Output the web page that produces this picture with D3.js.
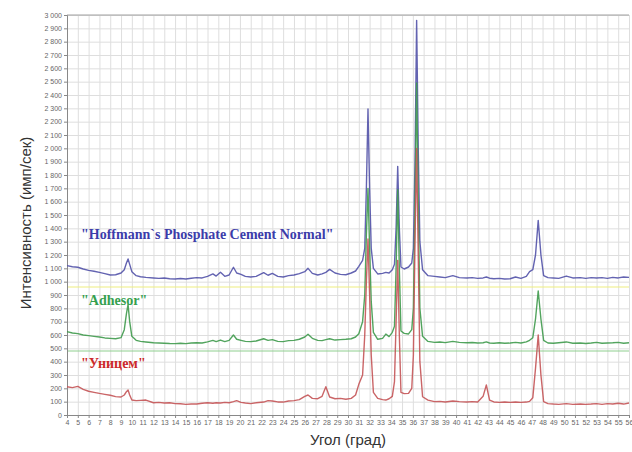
<!DOCTYPE html>
<html>
<head>
<meta charset="utf-8">
<script src="https://cdn.jsdelivr.net/npm/d3@7"></script>
<style>
  body { margin: 0; background: #fff; }
  svg { display: block; font-family: "Liberation Sans", Arial, sans-serif; }
</style>
</head>
<body>
<div id="chart"></div>
<script>
// 2θ angles of the scan (shared by all three samples)
const angles = [
  4, 4.5, 5, 5.5, 6, 6.5, 7, 7.5, 8, 8.5,
  9, 9.3, 9.5, 9.65, 9.8, 10, 10.4, 10.8, 11.3, 12,
  12.5, 13, 13.5, 14, 14.5, 15, 15.5, 16, 16.5, 17,
  17.5, 17.8, 18.2, 18.6, 19, 19.4, 19.7, 20.1, 20.5, 21,
  21.5, 22.2, 22.6, 23, 23.5, 24, 24.5, 25, 25.5, 26,
  26.3, 26.7, 27.2, 27.6, 27.95, 28.3, 28.8, 29.3, 29.8, 30.3,
  30.7, 31, 31.35, 31.55, 31.7, 31.85, 32, 32.15, 32.35, 32.75,
  33.2, 33.5, 33.8, 34.1, 34.3, 34.45, 34.6, 34.75, 34.9, 35.2,
  35.6, 35.9, 36.05, 36.2, 36.35, 36.5, 36.65, 36.9, 37.4, 38,
  38.5, 39, 39.7, 40.3, 41, 41.5, 42, 42.5, 42.8, 43.1,
  43.5, 44, 44.5, 45, 45.5, 46, 46.5, 46.8, 47.1, 47.35,
  47.6, 47.85, 48.1, 48.5, 49, 49.5, 50.2, 50.8, 51.5, 52,
  52.5, 53, 53.5, 54, 54.5, 55, 55.5, 56
];

// intensities (counts/s)
const hoffmann = [
  1120, 1112, 1108, 1095, 1085, 1078, 1070, 1060, 1050, 1052,
  1065, 1090, 1140, 1170, 1130, 1075, 1045, 1037, 1032, 1028,
  1025, 1027, 1022, 1020, 1024, 1020, 1026, 1030, 1028, 1040,
  1058, 1042, 1070, 1040, 1050, 1108, 1065, 1055, 1040, 1035,
  1040, 1068, 1048, 1062, 1040, 1035, 1045, 1050, 1060, 1075,
  1100, 1062, 1050, 1058, 1070, 1092, 1065, 1055, 1052, 1065,
  1080, 1115, 1160, 1250, 1700, 2295, 1700, 1250, 1100, 1058,
  1062, 1070, 1065, 1090, 1130, 1400, 1865, 1400, 1110, 1095,
  1110, 1140, 1250, 1900, 2960, 2000, 1300, 1090, 1045, 1040,
  1035, 1030, 1045, 1030, 1028, 1030, 1025, 1028, 1035, 1026,
  1022, 1025, 1020, 1022, 1035, 1025, 1040, 1075, 1090, 1200,
  1460, 1200, 1045, 1030, 1028, 1025, 1042, 1028, 1030, 1025,
  1030, 1028, 1030, 1025, 1032, 1028, 1035, 1032
];

const adhesor = [
  625, 615, 610, 600, 595, 590, 585, 578, 575, 572,
  580, 640, 760, 830, 700, 590, 560, 552, 548, 542,
  540, 538, 536, 535, 538, 535, 540, 542, 540, 548,
  560, 550, 562, 550, 560, 600, 568, 560, 552, 550,
  555, 572, 560, 565, 552, 550, 558, 560, 568, 585,
  605, 575, 560, 558, 565, 572, 562, 565, 568, 572,
  585, 610, 700, 900, 1350, 1700, 1250, 850, 620, 568,
  575, 607, 588, 620, 665, 1100, 1690, 1100, 630, 612,
  608, 640, 800, 1600, 2490, 1600, 800, 590, 552, 545,
  548, 543, 552, 545, 542, 544, 540, 542, 548, 540,
  538, 542, 538, 540, 545, 540, 548, 560, 580, 720,
  930, 720, 560, 540, 538, 542, 548, 538, 540, 536,
  540, 545, 538, 540, 542, 545, 538, 542
];

const unicem = [
  212, 205, 215, 192, 178, 170, 162, 155, 148, 138,
  135, 150, 175, 187, 150, 112, 108, 110, 112, 92,
  95, 90, 92, 85, 84, 80, 82, 82, 88, 92,
  88, 92, 90, 95, 92, 100, 108, 95, 90, 85,
  92, 97, 108, 105, 98, 97, 105, 108, 115, 140,
  150, 125, 122, 140, 212, 135, 122, 125, 118, 125,
  150, 230, 300, 600, 1000, 1320, 900, 450, 170, 125,
  115, 112, 122, 140, 250, 700, 1160, 600, 170, 160,
  162, 200, 450, 1300, 2000, 1200, 400, 137, 112, 100,
  102, 98, 105, 100, 97, 100, 98, 140, 225, 112,
  98, 95, 97, 95, 98, 95, 97, 102, 130, 350,
  600, 300, 100, 85, 82, 80, 85, 80, 82, 80,
  82, 85, 80, 85, 82, 88, 82, 90
];

const seriesNames = ["\"Hoffmann`s Phosphate Cement Normal\"", "\"Adhesor\"", "\"Уницем\""];
const labelLevels = [1320, 825, 350];   // where the sample names sit
const refLevels = [960, 480];            // thin horizontal guide lines

const width = 632;
const height = 452;
const margin = { top: 15, right: 3, bottom: 37, left: 67 };

const xScale = d3.scaleLinear()
    .domain([4, 56])
    .range([margin.left, width - margin.right]);

const yScale = d3.scaleLinear()
    .domain([0, 3000])
    .range([height - margin.bottom, margin.top]);

const svg = d3.select("#chart")
    .append("svg")
    .attr("width", width)
    .attr("height", height);

// grid
svg.append("g")
    .attr("transform", `translate(0,${height - margin.bottom})`)
    .call(d3.axisBottom(xScale).ticks(52).tickSize(-(height - margin.top - margin.bottom)).tickFormat(""))
    .call(g => g.select(".domain").remove())
    .call(g => g.selectAll("line").attr("stroke", "#dedede"));

svg.append("g")
    .attr("transform", `translate(${margin.left},0)`)
    .call(d3.axisLeft(yScale).ticks(30).tickSize(-(width - margin.left - margin.right)).tickFormat(""))
    .call(g => g.select(".domain").remove())
    .call(g => g.selectAll("line").attr("stroke", "#dedede"));

// top border
svg.append("line")
    .attr("x1", margin.left).attr("x2", width - margin.right)
    .attr("y1", yScale(3000)).attr("y2", yScale(3000))
    .attr("stroke", "#a0a0a0");

// guide lines
const refColors = ["#eeee80", "#8fcf8f"];
svg.selectAll(".ref")
    .data(refLevels)
    .enter().append("line")
    .attr("class", "ref")
    .attr("x1", margin.left).attr("x2", width - margin.right)
    .attr("y1", d => yScale(d)).attr("y2", d => yScale(d))
    .attr("stroke", (d, i) => refColors[i])
    .attr("stroke-width", 1.2);

// axes
const fmt = v => d3.format(",")(v).replace(",", " ");
const yAxis = svg.append("g")
    .attr("transform", `translate(${margin.left},0)`)
    .call(d3.axisLeft(yScale).ticks(30).tickSize(3).tickPadding(2).tickFormat(fmt));
yAxis.selectAll("text").attr("font-size", 7).attr("fill", "#666");
yAxis.selectAll("line, .domain").attr("stroke", "#888");

const xAxis = svg.append("g")
    .attr("transform", `translate(0,${height - margin.bottom})`)
    .call(d3.axisBottom(xScale).ticks(52).tickSize(3).tickPadding(2).tickFormat(d3.format("d")));
xAxis.selectAll("text").attr("font-size", 7).attr("fill", "#666");
xAxis.selectAll("line, .domain").attr("stroke", "#888");

// lines
const lineColors = ["#5252a8", "#3f9a4c", "#c45457"];
const seriesData = [hoffmann, adhesor, unicem].map(vals => vals.map((v, i) => ({ a: angles[i], v: v })));

const valueline = d3.line()
    .x(d => xScale(d.a))
    .y(d => yScale(d.v));

svg.selectAll(".series")
    .data(seriesData)
    .enter().append("path")
    .attr("class", "series")
    .attr("d", valueline)
    .attr("fill", "none")
    .attr("stroke", (d, i) => lineColors[i])
    .attr("stroke-opacity", 0.9)
    .attr("stroke-width", 1.4)
    .attr("stroke-linejoin", "round");

// sample names
const labelColors = ["#3c3caa", "#35a04e", "#cc2a2a"];
svg.selectAll(".name")
    .data(seriesNames)
    .enter().append("text")
    .attr("class", "name")
    .attr("x", xScale(5.3))
    .attr("y", (d, i) => yScale(labelLevels[i]))
    .attr("font-family", "\"Liberation Serif\", \"Times New Roman\", serif")
    .attr("font-weight", "bold")
    .attr("font-size", 14)
    .attr("fill", (d, i) => labelColors[i])
    .text(d => d);

// axis titles
svg.append("text")
    .attr("x", (margin.left + width - margin.right) / 2)
    .attr("y", height - 7)
    .attr("text-anchor", "middle")
    .attr("font-size", 15)
    .attr("fill", "#333")
    .text("Угол (град)");

svg.append("text")
    .attr("transform", "rotate(-90)")
    .attr("x", -223)
    .attr("y", 31)
    .attr("text-anchor", "middle")
    .attr("font-size", 15)
    .attr("fill", "#333")
    .text("Интенсивность (имп/сек)");
</script>
</body>
</html>
